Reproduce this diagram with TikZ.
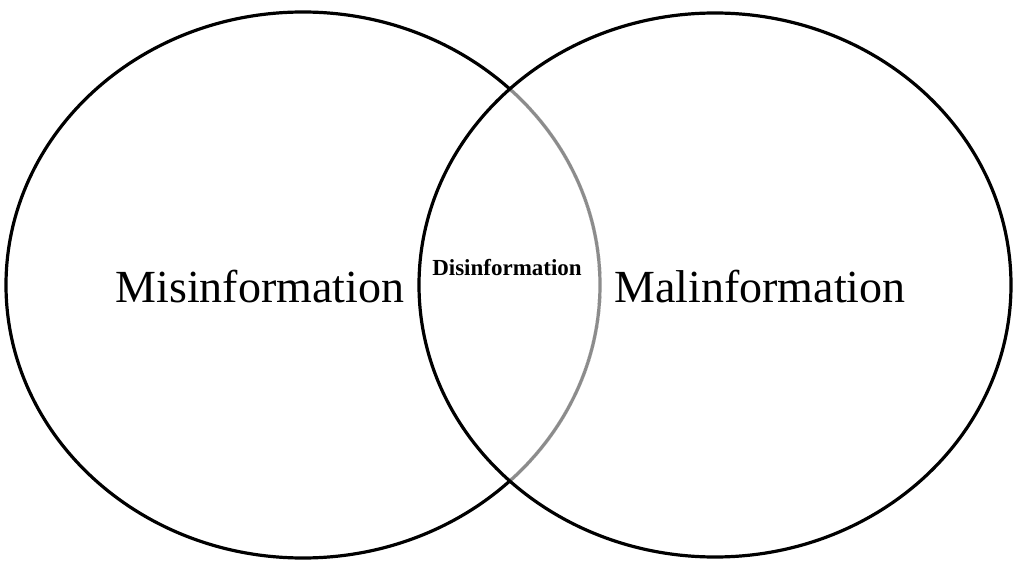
\documentclass[tikz,border=0pt]{standalone}
\usepackage{fontspec}
\setmainfont{Liberation Serif}
\begin{document}
\begin{tikzpicture}[x=1pt,y=-1pt,
  outline/.style={line width=3.2pt,draw=black},
  inner/.style={line width=3.2pt,draw=black!45},
  biglabel/.style={font=\fontsize{46}{50}\selectfont,inner sep=0pt},
  smalllabel/.style={font=\fontsize{23}{26}\selectfont\bfseries,inner sep=0pt}]
\useasboundingbox (0,0) rectangle (1015,561);
% left circle
\draw[outline] (303,285) ellipse [x radius=297pt, y radius=273pt];
% part of the left circle lying inside the right one, drawn in grey
\begin{scope}
  \clip (715,285) ellipse [x radius=296pt, y radius=272pt];
  \draw[line width=4pt,white] (303,285) ellipse [x radius=297pt, y radius=273pt];
  \draw[inner] (303,285) ellipse [x radius=297pt, y radius=273pt];
\end{scope}
% right circle
\draw[outline] (715,285) ellipse [x radius=296pt, y radius=272pt];
% labels
\node[biglabel] (mis) at (260,287) {Misinformation};
\node[biglabel] (mal) at (760,287) {Malinformation};
\node[smalllabel] (dis) at (507,268) {Disinformation};
\end{tikzpicture}
\end{document}
